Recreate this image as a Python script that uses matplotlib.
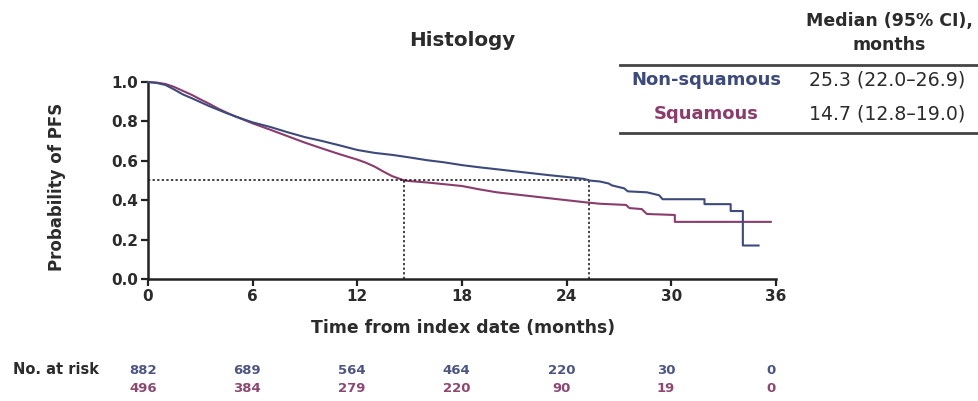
import numpy as np
import matplotlib
matplotlib.use("Agg")
import matplotlib.pyplot as plt
from matplotlib import font_manager
from matplotlib.transforms import blended_transform_factory

plt.rcParams['font.family'] = ['DejaVu Sans']

# ===== KM curve vertices (months, probability of PFS) =====
t_nonsq = [0, 0.5, 1.0, 1.5, 2.0, 2.5, 3.0, 3.5, 4.0, 4.5, 5.0, 5.5, 6.0,
           7, 8, 9, 10, 11, 12, 13, 14, 15, 16, 17, 18, 19, 20, 21, 22, 23,
           24, 25, 25.3, 25.9, 26.4, 26.6, 27.3, 27.5, 28.6, 29.3, 29.5,
           31.9, 31.9, 33.4, 33.4, 34.1, 34.1, 35.0]
p_nonsq = [1.0, 0.995, 0.985, 0.962, 0.937, 0.918, 0.898, 0.878, 0.86, 0.842,
           0.826, 0.81, 0.795, 0.772, 0.745, 0.72, 0.70, 0.678, 0.655, 0.64,
           0.63, 0.617, 0.603, 0.592, 0.578, 0.567, 0.557, 0.547, 0.537,
           0.527, 0.518, 0.508, 0.50, 0.495, 0.485, 0.475, 0.46, 0.445, 0.44,
           0.425, 0.405, 0.405, 0.38, 0.38, 0.345, 0.345, 0.17, 0.17]

t_sq = [0, 0.5, 1.0, 1.5, 2.0, 2.5, 3.0, 3.5, 4.0, 4.5, 5.0, 5.5, 6.0,
        7, 8, 9, 10, 11, 12, 12.5, 13, 13.5, 14, 14.7, 15, 16, 17, 18, 19,
        20, 21, 22, 23, 24, 25, 25.9, 27.4, 27.6, 28.3, 28.6, 30.2, 30.2,
        35.7]
p_sq = [1.0, 0.997, 0.99, 0.975, 0.955, 0.935, 0.912, 0.89, 0.866, 0.845,
        0.825, 0.808, 0.79, 0.758, 0.725, 0.692, 0.662, 0.633, 0.606, 0.59,
        0.57, 0.545, 0.522, 0.50, 0.497, 0.49, 0.481, 0.472, 0.455, 0.44,
        0.43, 0.42, 0.41, 0.40, 0.39, 0.382, 0.376, 0.36, 0.355, 0.33, 0.325,
        0.29, 0.29]

medians = [25.3, 14.7]
median_txt = ["25.3 (22.0\u201326.9)", "14.7 (12.8\u201319.0)"]
groups = ["Non-squamous", "Squamous"]

risk_times = [0, 6, 12, 18, 24, 30, 36]
risk_nonsq = [882, 689, 564, 464, 220, 30, 0]
risk_sq = [496, 384, 279, 220, 90, 19, 0]

c_nonsq = "#3d4a7a"
c_sq = "#8a3c6c"
txt_c = "#2b2b2b"

# narrow face for the at-risk counts if available
installed = {f.name for f in font_manager.fontManager.ttflist}
if "Liberation Sans Narrow" in installed:
    risk_font, risk_size = "Liberation Sans Narrow", 11.5
else:
    risk_font, risk_size = "DejaVu Sans", 9.5

W, H = 979, 401
fig = plt.figure(figsize=(W / 100, H / 100), dpi=100)


def fx(x):
    return x / W


def fy(y):
    return 1 - y / H


ax = fig.add_axes([fx(148), fy(279), 628 / W, 197 / H])
ax.plot(t_nonsq, p_nonsq, color=c_nonsq, lw=1.5, clip_on=False, zorder=3)
ax.plot(t_sq, p_sq, color=c_sq, lw=1.5, clip_on=False, zorder=2)

# median guides
ax.plot([0, medians[0]], [0.5, 0.5], color="#111111", lw=1.1, ls=(0, (1.5, 1.5)))
for m in medians:
    ax.plot([m, m], [0, 0.5], color="#111111", lw=1.1, ls=(0, (1.5, 1.5)))

ax.set_xlim(0, 36)
ax.set_ylim(0, 1)
ax.set_xticks(risk_times)
ax.set_yticks([0, 0.2, 0.4, 0.6, 0.8, 1.0])
ax.set_yticklabels(["0.0", "0.2", "0.4", "0.6", "0.8", "1.0"])
for s in ["top", "right"]:
    ax.spines[s].set_visible(False)
for s in ["left", "bottom"]:
    ax.spines[s].set_linewidth(1.8)
    ax.spines[s].set_color("#222222")
ax.tick_params(axis="both", direction="out", length=5, width=1.6,
               color="#222222", labelsize=11, labelcolor=txt_c, pad=2)
for lab in ax.get_xticklabels() + ax.get_yticklabels():
    lab.set_fontweight("bold")

fig.text(fx(462), fy(41), "Histology", ha="center", va="center",
         fontsize=14.3, fontweight="bold", color=txt_c)
fig.text(fx(57), fy(187), "Probability of PFS", ha="center", va="center",
         rotation=90, fontsize=12, fontweight="bold", color=txt_c)
fig.text(fx(463), fy(328), "Time from index date (months)", ha="center",
         va="center", fontsize=12.4, fontweight="bold", color=txt_c)

# median table
for yy in [65, 133]:
    fig.add_artist(plt.Line2D([fx(620), fx(979)], [fy(yy), fy(yy)],
                              color="#444444", lw=2))
fig.text(fx(889), fy(21), "Median (95% CI),", ha="center", va="center",
         fontsize=12.5, fontweight="bold", color=txt_c)
fig.text(fx(889), fy(45), "months", ha="center", va="center",
         fontsize=12.5, fontweight="bold", color=txt_c)
for name, val, col, yy in zip(groups, median_txt, [c_nonsq, c_sq], [80, 114]):
    fig.text(fx(706), fy(yy), name, ha="center", va="center",
             fontsize=13, fontweight="bold", color=col)
    fig.text(fx(887), fy(yy), val, ha="center", va="center",
             fontsize=13.6, color=txt_c)

# numbers at risk
fig.text(fx(13), fy(370), "No. at risk", ha="left", va="center",
         fontsize=10.5, fontweight="bold", color=txt_c)
tr = blended_transform_factory(ax.transData, fig.transFigure)
for t, a, b in zip(risk_times, risk_nonsq, risk_sq):
    ax.text(t - 0.3, fy(371), str(a), transform=tr, ha="center", va="center",
            family=risk_font, fontsize=risk_size, fontweight="bold",
            color="#4d5683")
    ax.text(t - 0.3, fy(388), str(b), transform=tr, ha="center", va="center",
            family=risk_font, fontsize=risk_size, fontweight="bold",
            color="#8c4872")

fig.savefig("out.png", dpi=100)
